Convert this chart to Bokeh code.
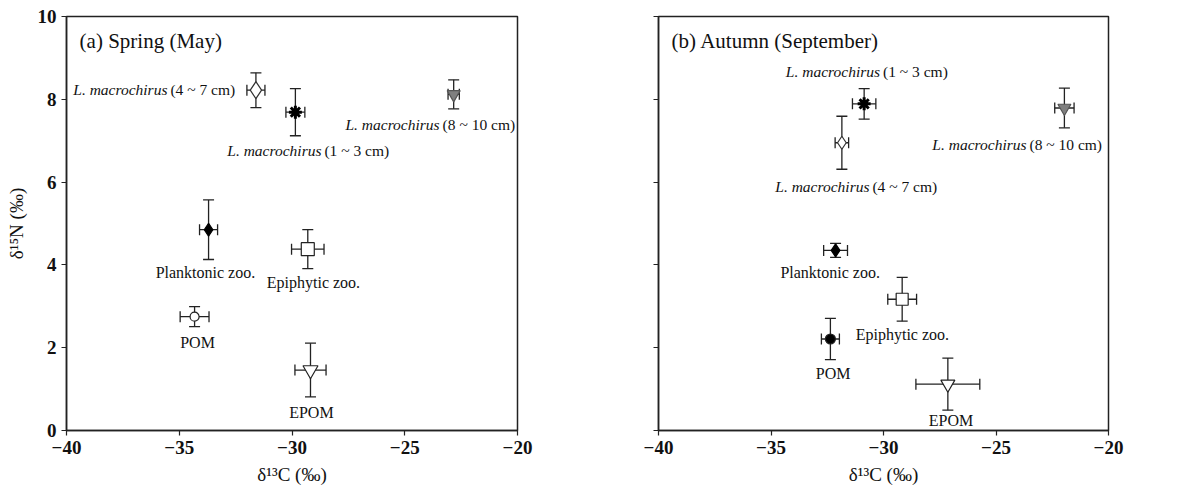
from bokeh.plotting import figure
from bokeh.models import (ColumnDataSource, Whisker, TeeHead, Range1d, FixedTicker,
                          CustomJSTickFormatter, Label)
from bokeh.layouts import row
from bokeh.embed import file_html
from bokeh.resources import INLINE
from bokeh.core.properties import value

# ---------------- data ----------------
groups = ["L. macrochirus (1~3 cm)", "L. macrochirus (4~7 cm)", "L. macrochirus (8~10 cm)",
          "Planktonic zoo.", "Epiphytic zoo.", "POM", "EPOM"]
fish_italic = ["L. macrochirus", "L. macrochirus", "L. macrochirus"]
fish_size = ["(1 ~ 3 cm)", "(4 ~ 7 cm)", "(8 ~ 10 cm)"]
other_names = ["Planktonic zoo.", "Epiphytic zoo.", "POM", "EPOM"]

spring_c = [-29.85, -31.60, -22.83, -33.70, -29.30, -34.32, -29.18]
spring_n = [7.69, 8.22, 8.12, 4.85, 4.38, 2.75, 1.46]
spring_c_sd = [0.42, 0.40, 0.25, 0.40, 0.72, 0.64, 0.69]
spring_n_sd = [0.57, 0.42, 0.35, 0.72, 0.47, 0.24, 0.65]

autumn_c = [-30.86, -31.85, -21.96, -32.13, -29.17, -32.36, -27.14]
autumn_n = [7.89, 6.95, 7.79, 4.35, 3.17, 2.21, 1.12]
autumn_c_sd = [0.52, 0.30, 0.43, 0.53, 0.64, 0.40, 1.42]
autumn_n_sd = [0.37, 0.64, 0.48, 0.17, 0.53, 0.50, 0.63]

x_ticks = [-40, -35, -30, -25, -20]
y_ticks = [0, 2, 4, 6, 8, 10]

# label anchor positions (data coords)
spring_fish_lx = [-28.65, -35.48, -23.41]
spring_fish_ly = [6.77, 8.24, 7.40]
spring_other_lx = [-33.84, -29.05, -34.19, -29.14]
spring_other_ly = [3.81, 3.57, 2.12, 0.43]

autumn_fish_lx = [-30.11, -30.58, -23.60]
autumn_fish_ly = [8.67, 5.90, 6.91]
autumn_other_lx = [-32.37, -29.16, -32.24, -27.00]
autumn_other_ly = [3.81, 2.31, 1.37, 0.24]

# ---------------- styles ----------------
markers = ["asterisk", "diamond", "inverted_triangle", "diamond", "square", "circle", "inverted_triangle"]
spring_fill = ["black", "white", "#7f7f7f", "black", "white", "white", "white"]
autumn_fill = ["black", "white", "#7f7f7f", "black", "white", "black", "white"]
spring_size = [13, 17, 13, 13, 13, 9, 15]
autumn_size = [13, 13, 13, 13, 12, 10, 14]
line_w = [3, 1.2, 1.2, 1.2, 1.2, 1.2, 1.2]
line_c = ["black", "#333333", "#555555", "black", "#222222", "#222222", "#222222"]

SERIF = "Liberation Serif"
SERIF_V = value(SERIF)


def make_panel(title, cx, ny, csd, nsd, fill, size, flx, fly, olx, oly,
               width, bl, br, show_ylabels):
    p = figure(width=width, height=487, x_range=Range1d(-40, -20), y_range=Range1d(0, 10),
               output_backend="svg", toolbar_location=None,
               min_border_left=bl, min_border_right=br, min_border_top=16, min_border_bottom=56)
    p.grid.visible = False
    p.outline_line_color = "#222222"
    p.outline_line_width = 1.5
    p.background_fill_color = "white"
    p.border_fill_color = "white"

    fmt = CustomJSTickFormatter(code="return tick < 0 ? '\u2212' + Math.abs(tick) : '' + tick;")
    for ax in (p.xaxis[0], p.yaxis[0]):
        ax.axis_line_color = "#222222"
        ax.axis_line_width = 1.5
        ax.major_tick_line_color = "#222222"
        ax.major_tick_line_width = 1.2
        ax.major_tick_out = 5
        ax.major_tick_in = 0
        ax.minor_tick_line_color = None
        ax.major_label_text_font = SERIF
        ax.major_label_text_font_size = "19px"
        ax.major_label_text_font_style = "bold"
        ax.major_label_text_color = "#111111"
        ax.axis_label_text_font = SERIF
        ax.axis_label_text_font_size = "19px"
        ax.axis_label_text_font_style = "normal"
        ax.axis_label_text_color = "#111111"
    p.xaxis[0].ticker = FixedTicker(ticks=x_ticks)
    p.yaxis[0].ticker = FixedTicker(ticks=y_ticks)
    p.xaxis[0].formatter = fmt
    p.xaxis[0].axis_label = "\u03b4\u00b9\u00b3C (\u2030)"
    p.xaxis[0].axis_label_standoff = 7
    if show_ylabels:
        p.yaxis[0].axis_label = "\u03b4\u00b9\u2075N (\u2030)"
        p.yaxis[0].axis_label_standoff = 8
    else:
        p.yaxis[0].major_label_overrides = {t: "" for t in y_ticks}

    src = ColumnDataSource(dict(
        x=cx, y=ny,
        xlo=[a - b for a, b in zip(cx, csd)], xhi=[a + b for a, b in zip(cx, csd)],
        ylo=[a - b for a, b in zip(ny, nsd)], yhi=[a + b for a, b in zip(ny, nsd)],
        marker=markers, fill=fill, size=size, lw=line_w, lc=line_c,
    ))
    for dim, base, lo, hi in (("height", "x", "ylo", "yhi"), ("width", "y", "xlo", "xhi")):
        w = Whisker(source=src, base=base, lower=lo, upper=hi, dimension=dim,
                    line_color="#222222", line_width=1.3, level="underlay",
                    lower_head=TeeHead(size=11, line_color="#222222", line_width=1.3),
                    upper_head=TeeHead(size=11, line_color="#222222", line_width=1.3))
        p.add_layout(w)
    p.scatter("x", "y", source=src, marker="marker", size="size", fill_color="fill",
              line_color="lc", line_width="lw")

    fsrc = ColumnDataSource(dict(x=flx, y=fly, it=fish_italic, sz=fish_size))
    p.text("x", "y", text="it", source=fsrc, text_font=SERIF_V, text_font_style="italic",
           text_font_size="15.5px", text_align="right", text_baseline="middle",
           text_color="#111111", x_offset=-1)
    p.text("x", "y", text="sz", source=fsrc, text_font=SERIF_V, text_font_size="15.5px",
           text_align="left", text_baseline="middle", text_color="#111111", x_offset=2)
    osrc = ColumnDataSource(dict(x=olx, y=oly, t=other_names))
    p.text("x", "y", text="t", source=osrc, text_font=SERIF_V, text_font_size="16px",
           text_align="center", text_baseline="middle", text_color="#111111")

    p.add_layout(Label(x=-39.42, y=9.42, text=title, text_font=SERIF, text_font_size="21px",
                       text_baseline="middle", text_color="#111111"))
    return p


p1 = make_panel("(a) Spring (May)", spring_c, spring_n, spring_c_sd, spring_n_sd,
                spring_fill, spring_size, spring_fish_lx, spring_fish_ly,
                spring_other_lx, spring_other_ly, 598, 66, 81, True)
p2 = make_panel("(b) Autumn (September)", autumn_c, autumn_n, autumn_c_sd, autumn_n_sd,
                autumn_fill, autumn_size, autumn_fish_lx, autumn_fish_ly,
                autumn_other_lx, autumn_other_ly, 597, 60, 87, False)

layout = row(p1, p2, spacing=0)
open("out.html", "w").write(file_html(layout, INLINE))
